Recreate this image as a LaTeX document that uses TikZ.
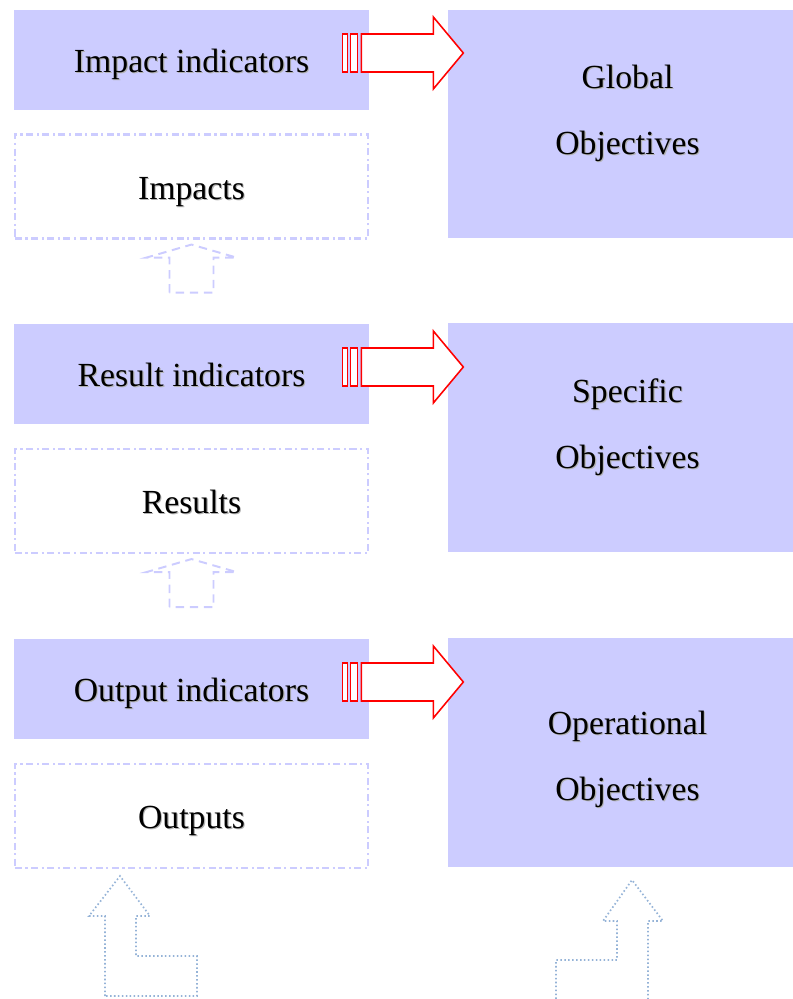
\documentclass[tikz,border=0pt]{standalone}
\usepackage{fontspec}
\setmainfont{Liberation Serif}
\definecolor{lav}{HTML}{CCCCFF}
\definecolor{dotblue}{HTML}{95B3D7}

% text with a soft grey shadow
\newcommand{\shline}[1]{\rlap{\hspace{0.8pt}\raisebox{-0.8pt}{\color{black!30}#1}}#1}

% striped red arrow from an indicator box to its objective box
\newcommand{\stripedarrow}[1]{%
  \begin{scope}[shift={(#1.east)}]
    \draw[redarrow] (-27,-26) rectangle (-22,12);
    \draw[redarrow] (-19,-26) rectangle (-12,12);
    \draw[redarrow] (-8,-26) -- (64,-26) -- (64,-43) -- (94,-7)
                    -- (64,29) -- (64,12) -- (-8,12) -- cycle;
  \end{scope}}

% hollow dashed arrow pointing up out of a box
\newcommand{\hollowup}[1]{%
  \begin{scope}[shift={(#1.south)}]
    \draw[uparrowline] (-22,53) -- (-22,18) -- (-45,18) -- (0,5)
                      -- (45,18) -- (22,18) -- (22,53) -- cycle;
  \end{scope}}

\begin{document}
\begin{tikzpicture}[x=0.025cm,y=-0.025cm,>=latex,
    every node/.style={font=\fontsize{24}{47}\selectfont},
    indbox/.style={fill=lav,minimum width=8.875cm,minimum height=2.5cm,inner sep=0pt,
                   text height=22.5pt,text depth=5pt},
    outbox/.style={draw=lav,line width=1.5pt,dash pattern=on 5pt off 2.5pt on 1.5pt off 2.5pt,
                   minimum width=8.83cm,minimum height=2.6cm,inner sep=0pt,
                   text height=23pt,text depth=5pt},
    objbox/.style={fill=lav,minimum width=8.625cm,minimum height=5.7cm,inner sep=0pt},
    objtext/.style={align=center,inner sep=0pt},
    redarrow/.style={draw=red,fill=white,line width=1.1pt},
    uparrowline/.style={draw=lav,line width=1.4pt,dash pattern=on 6pt off 4pt},
    bentarrow/.style={draw=dotblue,line width=1.2pt,dash pattern=on 1.1pt off 1.7pt}]
    \useasboundingbox (0,0) rectangle (793,999);

    % left column
    \node[indbox] (impind) at (191.5,60) {\shline{Impact indicators}};
    \node[outbox] (impacts) at (191.5,186.5) {\shline{Impacts}};
    \node[indbox] (resind) at (191.5,374) {\shline{Result indicators}};
    \node[outbox] (results) at (191.5,501) {\shline{Results}};
    \node[indbox] (outind) at (191.5,689) {\shline{Output indicators}};
    \node[outbox] (outputs) at (191.5,816) {\shline{Outputs}};

    % right column
    \node[objbox] (global) at (620.5,124) {};
    \node[objbox] (specific) at (620.5,437.5) {};
    \node[objbox] (operational) at (620.5,752.5) {};
    \node[objtext] (globaltxt) at ([shift={(7,-10)}]global.center)
        {\shline{Global}\\\shline{Objectives}};
    \node[objtext] (specifictxt) at ([shift={(7,-10)}]specific.center)
        {\shline{Specific}\\\shline{Objectives}};
    \node[objtext] (operationaltxt) at ([shift={(7,7)}]operational.center)
        {\shline{Operational}\\\shline{Objectives}};

    % indicators measure objectives
    \stripedarrow{impind}
    \stripedarrow{resind}
    \stripedarrow{outind}

    % results lead to impacts, outputs to results
    \hollowup{impacts}
    \hollowup{results}

    % bent arrows coming in at the bottom
    \draw[bentarrow] (105,996) -- (105,916) -- (89,916) -- (120,876) -- (150,916)
        -- (136,916) -- (136,956) -- (197,956) -- (197,996) -- cycle;
    \draw[bentarrow] (556,999) -- (556,960) -- (617,960) -- (617,921) -- (603,921)
        -- (632,880) -- (663,921) -- (648,921) -- (648,999);
\end{tikzpicture}
\end{document}
